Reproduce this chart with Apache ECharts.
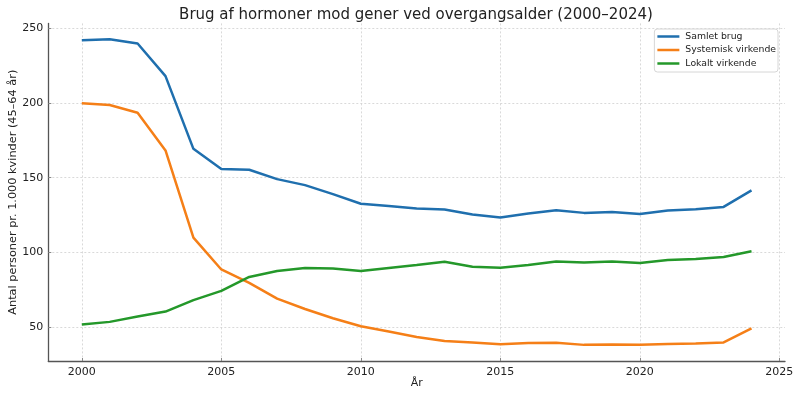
<!DOCTYPE html>
<html>
<head>
<meta charset="utf-8">
<script src="https://cdn.jsdelivr.net/npm/echarts@6/dist/echarts.min.js"></script>
<style>
    html, body {margin: 0; padding: 0; background: #fff;}
    #chart {width: 800px; height: 397px;}
</style>
</head>
<body>
<div id="chart"></div>
<script>
//年份
var years = [2000, 2001, 2002, 2003, 2004, 2005, 2006, 2007, 2008, 2009, 2010, 2011, 2012,
    2013, 2014, 2015, 2016, 2017, 2018, 2019, 2020, 2021, 2022, 2023, 2024]

//数据
var samlet = [242, 242.7, 239.8, 218, 169.3, 155.8, 155.3, 149, 145, 139, 132.5, 131, 129.3,
    128.7, 125.3, 123.3, 126, 128.2, 126.4, 127, 125.6, 128, 128.9, 130.4, 141.5]
var systemisk = [199.8, 198.7, 193.5, 168.2, 109.8, 88.5, 79.5, 69, 62, 55.8, 50.5, 47, 43.3,
    40.6, 39.6, 38.5, 39.2, 39.5, 38, 38.2, 38.1, 38.6, 39, 39.6, 49]
var lokalt = [51.6, 53.4, 57, 60.3, 68, 74.2, 83.5, 87.5, 89.5, 89.2, 87.5, 89.5, 91.5,
    93.6, 90.3, 89.7, 91.5, 93.9, 93.2, 93.9, 92.8, 94.8, 95.5, 96.8, 100.7]

//刻度
var xTicks = [2000, 2005, 2010, 2015, 2020, 2025]
var yTicks = [50, 100, 150, 200, 250]

var names = ['Samlet brug', 'Systemisk virkende', 'Lokalt virkende']
var colors = ['#1f6fae', '#f57f17', '#24982a']

var pair = (arr) => years.map((y, i) => [y, arr[i]])

var font = 'DejaVu Sans'
var gridLine = {show: true, lineStyle: {color: '#d0d0d0', width: 0.8, type: [2, 2]}}

var chart = echarts.init(document.getElementById('chart'), null, {renderer: 'canvas'})

chart.setOption({
    backgroundColor: '#fff',
    animation: false,
    textStyle: {fontFamily: font},
    title: {
        text: 'Brug af hormoner mod gener ved overgangsalder (2000–2024)',
        left: 411,
        textAlign: 'center',
        top: 3,
        textStyle: {fontFamily: font, fontSize: 15, fontWeight: 'normal', color: '#222'}
    },
    legend: {
        data: names,
        orient: 'vertical',
        right: 22,
        top: 29,
        icon: 'rect',
        itemWidth: 22,
        itemHeight: 2.5,
        itemGap: 4.5,
        padding: [3, 2, 4, 3],
        borderColor: '#d6d6d6',
        borderWidth: 1,
        borderRadius: 3,
        backgroundColor: 'rgba(255,255,255,0.85)',
        textStyle: {fontFamily: font, fontSize: 9.3, color: '#222', padding: [0, 0, 0, 1]}
    },
    grid: [
        //x刻度与竖网格
        {left: 81.8, right: 20.7, top: 23.4, bottom: 36, outerBoundsMode: 'none'},
        //y刻度与横网格
        {left: 48.3, right: 15, top: 28.3, bottom: 70, outerBoundsMode: 'none'},
        //数据
        {left: 48.3, right: 15, top: 23.4, bottom: 36, outerBoundsMode: 'none'}
    ],
    xAxis: [
        {
            gridIndex: 0, type: 'value', min: 2000, max: 2025, interval: 5,
            axisLine: {show: false},
            axisTick: {show: true, inside: true, length: 3, lineStyle: {color: '#888'}},
            axisLabel: {
                fontFamily: font, fontSize: 11, color: '#222', margin: 6,
                formatter: (v) => xTicks.indexOf(v) >= 0 ? String(v) : ''
            },
            splitLine: gridLine
        },
        {
            gridIndex: 1, type: 'value', min: 0, max: 1, show: false
        },
        {
            gridIndex: 2, type: 'value', min: 1998.8, max: 2025.2,
            name: 'År',
            nameLocation: 'middle',
            nameGap: 17,
            nameTextStyle: {fontFamily: font, fontSize: 11, color: '#222', verticalAlign: 'top'},
            axisLine: {show: true, lineStyle: {color: '#555', width: 1.3}},
            axisTick: {show: false},
            axisLabel: {show: false},
            splitLine: {show: false}
        }
    ],
    yAxis: [
        {
            gridIndex: 0, type: 'value', min: 0, max: 1, show: false
        },
        {
            gridIndex: 1, type: 'value', min: 50, max: 250, interval: 50,
            axisLine: {show: false},
            axisTick: {show: true, inside: true, length: 3, lineStyle: {color: '#888'}},
            axisLabel: {
                fontFamily: font, fontSize: 11, color: '#222', margin: 5,
                formatter: (v) => yTicks.indexOf(v) >= 0 ? String(v) : ''
            },
            splitLine: gridLine
        },
        {
            gridIndex: 2, type: 'value', min: 27.2, max: 253.3,
            name: 'Antal personer pr. 1.000 kvinder (45–64 år)',
            nameLocation: 'middle',
            nameGap: 30,
            nameRotate: 90,
            nameTextStyle: {fontFamily: font, fontSize: 11.3, color: '#222'},
            axisLine: {show: true, lineStyle: {color: '#555', width: 1.3}},
            axisTick: {show: false},
            axisLabel: {show: false},
            splitLine: {show: false}
        }
    ],
    series: [samlet, systemisk, lokalt].map((arr, i) => ({
        name: names[i],
        type: 'line',
        xAxisIndex: 2,
        yAxisIndex: 2,
        data: pair(arr),
        symbol: 'none',
        color: colors[i],
        lineStyle: {width: 2.5, color: colors[i]}
    }))
})
</script>
</body>
</html>
